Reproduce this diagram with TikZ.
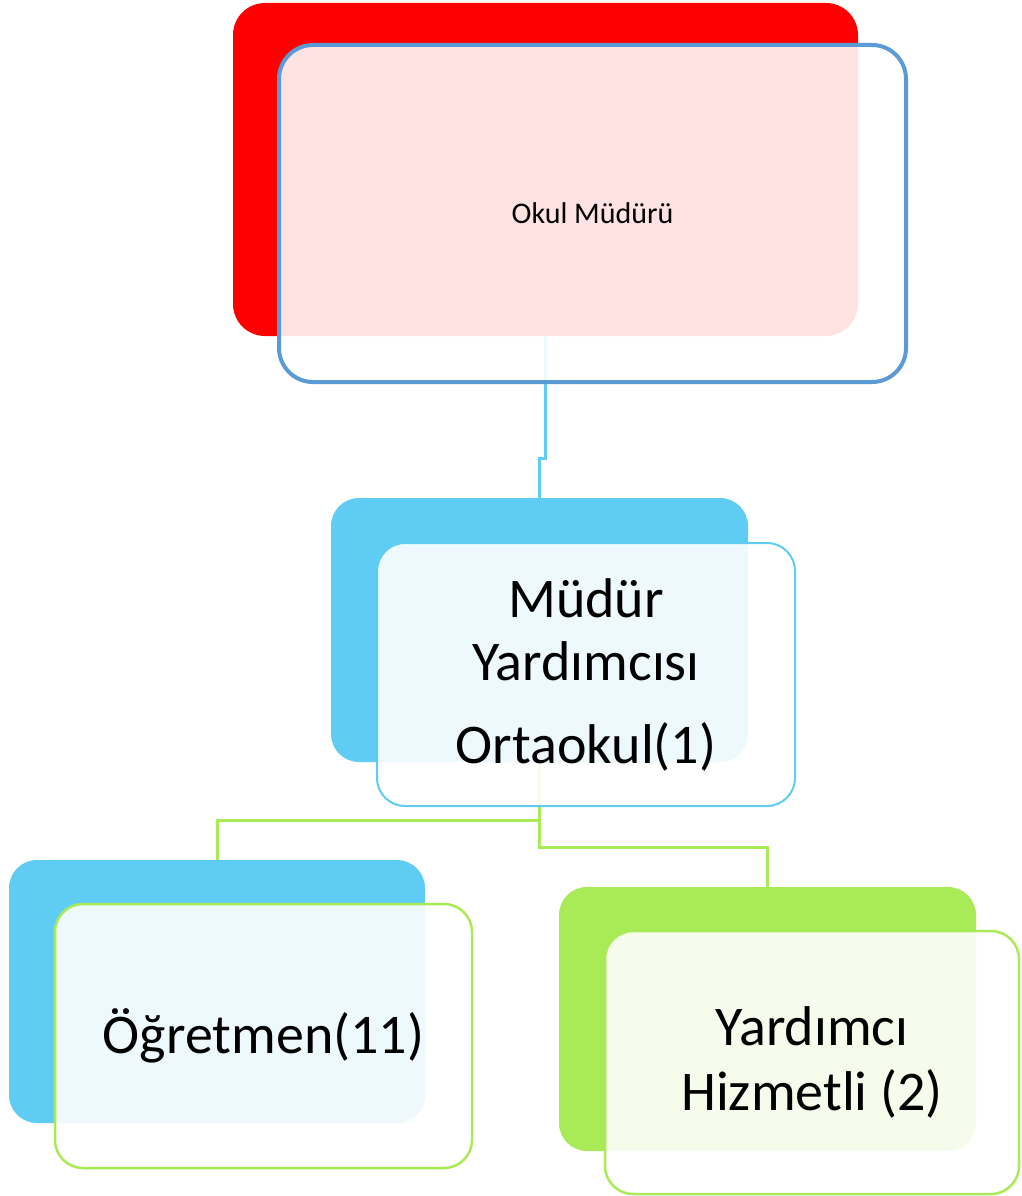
\documentclass[tikz,border=0pt]{standalone}
\usepackage{fontspec}
\setmainfont{Carlito}
\definecolor{redbox}{RGB}{255,0,0}
\definecolor{blueline}{RGB}{91,155,213}
\definecolor{cyanbox}{RGB}{95,205,243}
\definecolor{greenbox}{RGB}{169,235,86}
\tikzset{
  backbox/.style={rectangle, rounded corners=32pt, inner sep=0pt, draw=none},
  frontbox/.style={rectangle, rounded corners=32pt, inner sep=0pt, fill=white, fill opacity=0.89, text opacity=1, align=center, text=black},
  link/.style={line width=3pt},
}
\begin{document}
\begin{tikzpicture}[x=1pt,y=-1pt]
\useasboundingbox (0,0) rectangle (1021,1196);
\fill[white] (0,0) rectangle (1021,1196);
% back boxes
\node[backbox, fill=redbox, minimum width=625pt, minimum height=333pt] (tb) at (545.5,169.5) {};
\node[backbox, fill=cyanbox, minimum width=417pt, minimum height=264pt, rounded corners=28pt] (mb) at (539.5,630) {};
\node[backbox, fill=cyanbox, minimum width=416pt, minimum height=263pt, rounded corners=28pt] (lb) at (217,991.5) {};
\node[backbox, fill=greenbox, minimum width=417pt, minimum height=264pt, rounded corners=28pt] (rb) at (767.5,1019) {};
% connectors
\draw[link, cyanbox] (tb.south) -- (tb.south |- 0,458) -- (mb.north |- 0,458) -- (mb.north);
\draw[link, greenbox] (mb.south) -- (mb.south |- 0,820) -| (lb.north);
\draw[link, greenbox] (mb.south) -- (mb.south |- 0,847) -| (rb.north);
% front boxes
\node[frontbox, draw=blueline, line width=4pt, minimum width=627pt, minimum height=337pt, rounded corners=34pt, font=\fontsize{30}{36}\selectfont] (tf) at (592.5,213.5) {Okul Müdürü};
\node[frontbox, draw=cyanbox, line width=2pt, minimum width=418pt, minimum height=263pt, rounded corners=28pt, font=\fontsize{56}{63}\selectfont] (mf) at (586,674.5) {Müdür\\Yardımcısı\\[20pt]Ortaokul(1)};
\node[frontbox, draw=greenbox, line width=2.5pt, minimum width=417pt, minimum height=264pt, rounded corners=28pt, font=\fontsize{56}{65}\selectfont] (lf) at (263.5,1036) {Öğretmen(11)};
\node[frontbox, draw=greenbox, line width=2.5pt, minimum width=414pt, minimum height=263pt, rounded corners=28pt, font=\fontsize{56}{65}\selectfont] (rf) at (812,1062.5) {Yardımcı\\Hizmetli (2)};
\end{tikzpicture}
\end{document}
